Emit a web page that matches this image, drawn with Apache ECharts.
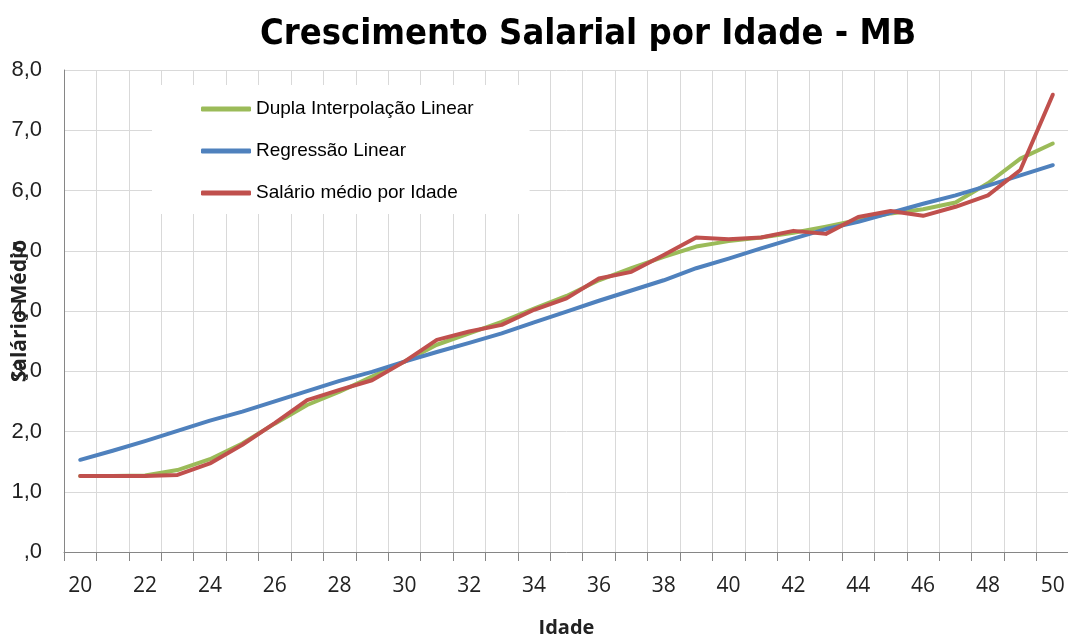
<!DOCTYPE html>
<html>
<head>
<meta charset="utf-8">
<script src="https://cdn.jsdelivr.net/npm/echarts@6/dist/echarts.min.js"></script>
<style>
  html, body { margin: 0; padding: 0; background: #fff; }
  #chart { width: 1068px; height: 639px; }
</style>
</head>
<body>
<div id="chart"></div>
<script>
// ages on the x axis
const ages = ["20", "21", "22", "23", "24", "25", "26", "27", "28", "29", "30",
  "31", "32", "33", "34", "35", "36", "37", "38", "39", "40",
  "41", "42", "43", "44", "45", "46", "47", "48", "49", "50"];

const duplaInterpolacao = [1.26, 1.26, 1.27, 1.36, 1.54, 1.80, 2.13, 2.44, 2.66, 2.91, 3.16,
  3.44, 3.63, 3.82, 4.04, 4.25, 4.51, 4.71, 4.90, 5.07, 5.16,
  5.22, 5.30, 5.40, 5.51, 5.62, 5.69, 5.80, 6.12, 6.53, 6.78];

const regressaoLinear = [1.53, 1.68, 1.84, 2.01, 2.18, 2.33, 2.50, 2.67, 2.84, 2.99, 3.16,
  3.32, 3.47, 3.63, 3.81, 3.99, 4.17, 4.34, 4.51, 4.71, 4.87,
  5.04, 5.20, 5.36, 5.48, 5.63, 5.78, 5.92, 6.08, 6.25, 6.42];

const salarioMedio = [1.26, 1.26, 1.26, 1.28, 1.47, 1.78, 2.14, 2.52, 2.69, 2.85, 3.16,
  3.52, 3.66, 3.77, 4.02, 4.21, 4.54, 4.65, 4.93, 5.22, 5.19,
  5.22, 5.33, 5.28, 5.56, 5.66, 5.58, 5.73, 5.92, 6.34, 7.59];

const seriesNames = ["Dupla Interpolação Linear", "Regressão Linear", "Salário médio por Idade"];
const seriesColors = ["#9bbb59", "#4f81bd", "#c0504d"];

const chart = echarts.init(document.getElementById("chart"));

function lineSeries(name, data, color) {
  return {
    name: name,
    type: "line",
    data: data,
    symbol: "none",
    color: color,
    lineStyle: { width: 4, color: color, cap: "round", join: "round" },
    emphasis: { disabled: true },
  };
}

const gridColor = "#d9d9d9";
const axisColor = "#868686";

chart.setOption({
  animation: false,
  title: {
    text: "Crescimento Salarial por Idade - MB",
    left: 255,
    top: 12,
    textStyle: {
      fontFamily: "'Liberation Sans Narrow', 'DejaVu Sans Condensed', 'Open Sans', sans-serif",
      fontWeight: "bold",
      fontSize: 36,
      color: "#000",
    },
  },
  legend: {
    orient: "vertical",
    left: 152,
    top: 85,
    padding: [14, 56, 11, 49],
    backgroundColor: "#fff",
    itemGap: 22,
    itemWidth: 50,
    itemHeight: 5,
    icon: "roundRect",
    data: seriesNames,
    textStyle: {
      fontFamily: "'Liberation Sans', Arial, sans-serif",
      fontSize: 19,
      lineHeight: 20,
      color: "#000",
    },
  },
  grid: {
    left: 64,
    right: -1,
    top: 70,
    bottom: 87,
    containLabel: false,
    outerBoundsMode: "none",
  },
  xAxis: {
    type: "category",
    data: ages,
    boundaryGap: true,
    name: "Idade",
    nameLocation: "middle",
    nameGap: 66,
    nameMoveOverlap: false,
    nameTextStyle: {
      fontFamily: "'Open Sans', sans-serif",
      fontWeight: "bold",
      fontSize: 20,
      color: "#222",
    },
    axisLine: { lineStyle: { color: axisColor, width: 1 } },
    axisTick: { show: true, interval: 0, length: 9, lineStyle: { color: axisColor } },
    axisLabel: {
      interval: 1,
      margin: 24,
      fontFamily: "'Open Sans', sans-serif",
      fontSize: 21,
      color: "#222",
    },
    splitLine: { show: true, interval: 0, lineStyle: { color: gridColor, width: 1 } },
  },
  yAxis: {
    type: "value",
    min: 0,
    max: 8,
    interval: 1,
    name: "Salário Médio",
    nameLocation: "middle",
    nameGap: 33,
    nameMoveOverlap: false,
    nameTextStyle: {
      fontFamily: "'Open Sans', sans-serif",
      fontWeight: "bold",
      fontSize: 21,
      color: "#222",
    },
    axisLine: { show: true, lineStyle: { color: axisColor, width: 1 } },
    axisTick: { show: false },
    axisLabel: {
      margin: 22,
      fontFamily: "'Liberation Sans', Arial, sans-serif",
      fontSize: 22,
      color: "#222",
      formatter: (v) => (v === 0 ? ",0" : v.toFixed(1).replace(".", ",")),
    },
    splitLine: { show: true, lineStyle: { color: gridColor, width: 1 } },
  },
  series: [
    lineSeries(seriesNames[0], duplaInterpolacao, seriesColors[0]),
    lineSeries(seriesNames[1], regressaoLinear, seriesColors[1]),
    lineSeries(seriesNames[2], salarioMedio, seriesColors[2]),
  ],
});
</script>
</body>
</html>
